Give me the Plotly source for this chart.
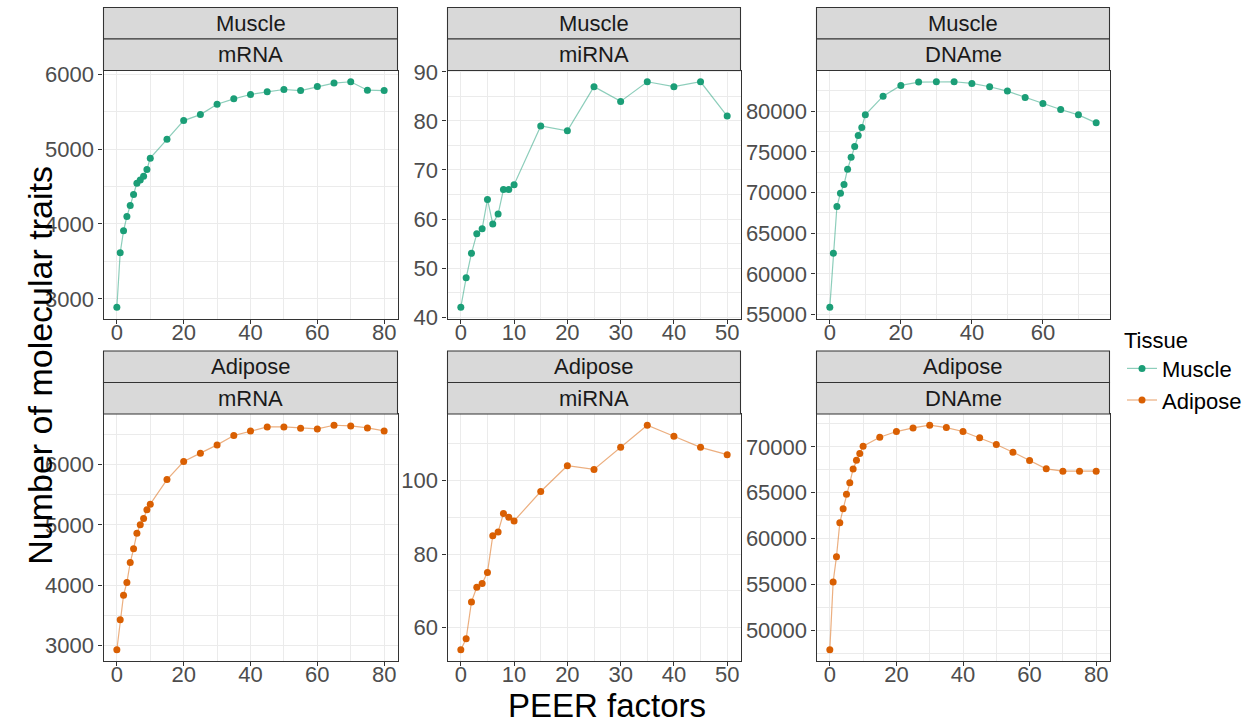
import math
import plotly.graph_objects as go

# ---------------- data ----------------
peer_80 = [0, 1, 2, 3, 4, 5, 6, 7, 8, 9, 10, 15, 20, 25, 30, 35, 40, 45, 50, 55, 60, 65, 70, 75, 80]
peer_75 = [0, 1, 2, 3, 4, 5, 6, 7, 8, 9, 10, 15, 20, 25, 30, 35, 40, 45, 50, 55, 60, 65, 70, 75]
peer_50 = [0, 1, 2, 3, 4, 5, 6, 7, 8, 9, 10, 15, 20, 25, 30, 35, 40, 45, 50]

muscle_mrna = [2889, 3615, 3909, 4101, 4245, 4392, 4544, 4588, 4638, 4727, 4878, 5129, 5379, 5459,
               5597, 5669, 5727, 5763, 5794, 5780, 5834, 5879, 5897, 5785, 5780]
muscle_mirna = [42, 48, 53, 57, 58, 64, 59, 61, 66, 66, 67, 79, 78, 87, 84, 88, 87, 88, 81]
muscle_dname = [55903, 62545, 68284, 69918, 70985, 72874, 74343, 75657, 77011, 77997, 79548, 81847,
                83161, 83571, 83612, 83612, 83407, 82997, 82463, 81683, 80944, 80205, 79548, 78563]
adipose_mrna = [2928, 3425, 3834, 4044, 4375, 4601, 4860, 5000, 5105, 5248, 5342, 5750, 6050, 6188,
                6325, 6480, 6557, 6623, 6623, 6601, 6590, 6651, 6640, 6607, 6557]
adipose_mirna = [54, 57, 67, 71, 72, 75, 85, 86, 91, 90, 89, 97, 104, 103, 109, 115, 112, 109, 107]
adipose_dname = [47858, 55254, 58013, 61716, 63240, 64837, 66071, 67595, 68539, 69265, 70073, 71053,
                 71670, 72069, 72359, 72105, 71670, 70980, 70254, 69419, 68512, 67604, 67350, 67350, 67350]

tissues = ["Muscle", "Adipose"]
assays = ["mRNA", "miRNA", "DNAme"]
tissue_colors = {"Muscle": "#1B9E77", "Adipose": "#D95F02"}
line_colors = {"Muscle": "rgba(27,158,119,0.5)", "Adipose": "rgba(217,95,2,0.5)"}

panels = {
    ("Muscle", "mRNA"): (peer_80, muscle_mrna),
    ("Muscle", "miRNA"): (peer_50, muscle_mirna),
    ("Muscle", "DNAme"): (peer_75, muscle_dname),
    ("Adipose", "mRNA"): (peer_80, adipose_mrna),
    ("Adipose", "miRNA"): (peer_50, adipose_mirna),
    ("Adipose", "DNAme"): (peer_80, adipose_dname),
}
# tick spacing per panel: (x major, x minor, y major, y minor)
ticks = {
    ("Muscle", "mRNA"): (20, 10, 1000, 500),
    ("Muscle", "miRNA"): (10, 5, 10, 5),
    ("Muscle", "DNAme"): (20, 10, 5000, 2500),
    ("Adipose", "mRNA"): (20, 10, 1000, 500),
    ("Adipose", "miRNA"): (10, 5, 20, 10),
    ("Adipose", "DNAme"): (20, 10, 5000, 2500),
}

# ---------------- layout geometry (pixels) ----------------
W, H = 1252, 724
cols_px = [(103.5, 397.5), (447.5, 740.5), (816.5, 1109.5)]
rows_px = [(70.5, 318.5), (414.0, 661.0)]
strip_h = 31.5


def px_x(v):
    return v / W


def px_y(v):
    return 1 - v / H


def breaks(lo, hi, step):
    k0 = math.ceil(lo / step)
    k1 = math.floor(hi / step)
    return [k * step for k in range(k0, k1 + 1) if lo < k * step < hi]


FONT = "Liberation Sans, Arial, sans-serif"
fig = go.Figure()
shapes = []
annotations = []
layout_axes = {}

idx = 0
for r, tissue in enumerate(tissues):
    for c, assay in enumerate(assays):
        idx += 1
        xs, ys = panels[(tissue, assay)]
        xa = "x" if idx == 1 else f"x{idx}"
        ya = "y" if idx == 1 else f"y{idx}"
        first = (c == 0)
        fig.add_trace(go.Scatter(
            x=xs, y=ys, mode="lines+markers", name=tissue,
            legendgroup=tissue, showlegend=first,
            line=dict(color=line_colors[tissue], width=1.2),
            marker=dict(color=tissue_colors[tissue], size=7),
            xaxis=xa, yaxis=ya,
        ))
        xlo, xhi = min(xs), max(xs)
        ylo, yhi = min(ys), max(ys)
        dx = (xhi - xlo) * 0.05
        dy = (yhi - ylo) * 0.05
        xr = [xlo - dx, xhi + dx]
        yr = [ylo - dy, yhi + dy]
        xmaj, xmin_t, ymaj, ymin_t = ticks[(tissue, assay)]
        x0p, x1p = cols_px[c]
        y0p, y1p = rows_px[r]
        common = dict(
            automargin=False,
            showgrid=True, gridcolor="#EBEBEB", gridwidth=1.07,
            showline=True, linecolor="#333333", linewidth=1.07, mirror=True,
            ticks="outside", ticklen=4, tickwidth=1.07, tickcolor="#333333",
            tickfont=dict(family=FONT, size=22, color="#4D4D4D"),
            zeroline=False, tickformat="d", tickmode="array",
        )
        layout_axes["xaxis" if idx == 1 else f"xaxis{idx}"] = dict(
            common, domain=[px_x(x0p), px_x(x1p)], range=xr,
            anchor=ya, tickvals=breaks(xr[0], xr[1], xmaj), ticklabelstandoff=-10,
            minor=dict(tickmode="array", tickvals=breaks(xr[0], xr[1], xmin_t),
                       showgrid=True, gridcolor="#EBEBEB", gridwidth=0.55, ticks=""),
        )
        layout_axes["yaxis" if idx == 1 else f"yaxis{idx}"] = dict(
            common, domain=[px_y(y1p), px_y(y0p)], range=yr,
            anchor=xa, tickvals=breaks(yr[0], yr[1], ymaj),
            minor=dict(tickmode="array", tickvals=breaks(yr[0], yr[1], ymin_t),
                       showgrid=True, gridcolor="#EBEBEB", gridwidth=0.55, ticks=""),
        )
        # strips
        for k, label in enumerate([tissue, assay]):
            top = y0p - 2 * strip_h + k * strip_h
            bot = top + strip_h
            shapes.append(dict(type="rect", xref="paper", yref="paper",
                               x0=px_x(x0p), x1=px_x(x1p), y0=px_y(bot), y1=px_y(top),
                               fillcolor="#D9D9D9", line=dict(color="#333333", width=1.07), layer="above"))
            annotations.append(dict(text=label, xref="paper", yref="paper",
                                    x=px_x((x0p + x1p) / 2), y=px_y((top + bot) / 2),
                                    xanchor="center", yanchor="middle", showarrow=False,
                                    font=dict(family=FONT, size=22, color="#1A1A1A")))

annotations.append(dict(text="Number of molecular traits", xref="paper", yref="paper",
                        x=px_x(40), y=px_y((rows_px[0][0] + rows_px[1][1]) / 2), textangle=-90,
                        xanchor="center", yanchor="middle", showarrow=False,
                        font=dict(family=FONT, size=34, color="black")))
annotations.append(dict(text="PEER factors", xref="paper", yref="paper",
                        x=px_x((cols_px[0][0] + cols_px[2][1]) / 2), y=px_y(705.5),
                        xanchor="center", yanchor="middle", showarrow=False,
                        font=dict(family=FONT, size=33, color="black")))

fig.update_layout(
    width=W, height=H, margin=dict(l=0, r=0, t=0, b=0, autoexpand=False),
    paper_bgcolor="white", plot_bgcolor="white",
    shapes=shapes, annotations=annotations,
    legend=dict(x=px_x(1122), y=px_y(319), xanchor="left", yanchor="top",
                title=dict(text="Tissue", font=dict(family=FONT, size=22, color="black")),
                font=dict(family=FONT, size=22, color="black"),
                tracegroupgap=0, itemwidth=30, bgcolor="rgba(0,0,0,0)"),
    showlegend=True,
    **layout_axes,
)
fig.write_html("out.html")
